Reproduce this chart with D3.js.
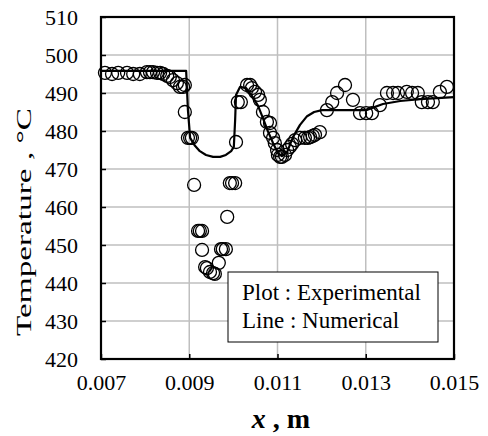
<!DOCTYPE html>
<html>
<head>
<meta charset="utf-8">
<script src="https://cdn.jsdelivr.net/npm/d3@7"></script>
<style>
  body { margin: 0; background: #fff; }
  text { font-family: "Liberation Serif", "Times New Roman", serif; fill: #000; }
</style>
</head>
<body>
<div id="chart"></div>
<script>
// experimental points (circles)
const expX = [0.00709, 0.00725, 0.00739, 0.00759, 0.00773, 0.00788, 0.00804, 0.00811, 0.00818, 0.00827,
  0.00834, 0.00841, 0.00850, 0.00856, 0.00863, 0.00872, 0.00879, 0.00886, 0.00890, 0.00890,
  0.00897, 0.00902, 0.00906, 0.00911, 0.00920, 0.00924, 0.00929, 0.00929, 0.00936, 0.00940,
  0.00947, 0.00954, 0.00958, 0.00967, 0.00972, 0.00976, 0.00983, 0.00986, 0.00992, 0.00997,
  0.01004, 0.01006, 0.01010, 0.01017, 0.01031, 0.01038, 0.01042, 0.01049, 0.01056, 0.01060,
  0.01067, 0.01076, 0.01083, 0.01083, 0.01090, 0.01094, 0.01099, 0.01101, 0.01106, 0.01110,
  0.01117, 0.01122, 0.01128, 0.01133, 0.01140, 0.01151, 0.01162, 0.01169, 0.01174, 0.01180,
  0.01185, 0.01196, 0.01212, 0.01224, 0.01235, 0.01253, 0.01271, 0.01287, 0.01301, 0.01314,
  0.01332, 0.01348, 0.01362, 0.01373, 0.01393, 0.01405, 0.01418, 0.01427, 0.01441, 0.01452,
  0.01468, 0.01484];
const expT = [495.3, 495.0, 495.3, 495.3, 495.0, 495.0, 495.5, 495.5, 495.5, 495.3,
  495.3, 495.0, 494.5, 494.2, 493.4, 492.6, 491.6, 491.6, 492.1, 485.0,
  478.2, 478.2, 478.2, 465.8, 453.7, 453.7, 453.7, 448.7, 444.2, 443.9,
  442.9, 442.6, 442.4, 445.3, 448.9, 448.9, 448.9, 457.4, 466.3, 466.3,
  466.3, 477.1, 487.6, 487.6, 492.1, 492.1, 491.3, 490.3, 489.5, 488.2,
  485.0, 482.4, 482.1, 479.5, 478.2, 476.8, 475.0, 473.7, 473.2, 473.2,
  473.7, 475.0, 475.8, 476.6, 477.6, 478.2, 478.2, 478.2, 478.4, 478.7,
  479.0, 479.7, 485.5, 487.6, 490.0, 492.1, 488.2, 484.7, 484.7, 484.7,
  486.8, 490.0, 490.0, 490.0, 490.3, 490.0, 490.0, 487.6, 487.6, 487.6,
  490.3, 491.6];

// numerical result (line)
const numX = [0.00700, 0.00811, 0.00893, 0.00897, 0.00902, 0.00913, 0.00924, 0.00938, 0.00954, 0.00970,
  0.00983, 0.00995, 0.01001, 0.01004, 0.01006, 0.01015, 0.01029, 0.01044, 0.01056, 0.01067,
  0.01078, 0.01090, 0.01101, 0.01110, 0.01122, 0.01135, 0.01151, 0.01167, 0.01183, 0.01201,
  0.01242, 0.01301, 0.01339, 0.01378, 0.01423, 0.01500];
const numT = [495.8, 495.8, 495.8, 485.5, 478.2, 476.1, 474.7, 473.7, 473.2, 473.2,
  473.7, 474.7, 475.8, 482.9, 489.5, 491.6, 491.3, 488.9, 486.6, 483.4,
  480.0, 476.8, 474.2, 473.4, 474.5, 478.4, 481.6, 483.9, 485.0, 485.5,
  485.5, 485.5, 487.1, 487.9, 488.4, 488.9];

const xTicks = [0.007, 0.009, 0.011, 0.013, 0.015];
const yTicks = [420, 430, 440, 450, 460, 470, 480, 490, 500, 510];
const legendLines = ["Plot : Experimental", "Line : Numerical"];

const W = 488, H = 436;
const margin = { top: 17, right: 34, bottom: 77, left: 101 };
const w = W - margin.left - margin.right;
const h = H - margin.top - margin.bottom;

const svg = d3.select("#chart").append("svg")
  .attr("width", W)
  .attr("height", H);

const g = svg.append("g")
  .attr("transform", `translate(${margin.left},${margin.top})`);

const x = d3.scaleLinear().domain([0.007, 0.015]).range([0, w]);
const y = d3.scaleLinear().domain([420, 510]).range([h, 0]);

// grid
g.append("g").selectAll("line")
  .data(yTicks.slice(1, -1))
  .join("line")
  .attr("x1", 0).attr("x2", w)
  .attr("y1", d => y(d)).attr("y2", d => y(d))
  .attr("stroke", "#bfbfbf").attr("stroke-width", 1.5);

g.append("g").selectAll("line")
  .data(xTicks.slice(1, -1))
  .join("line")
  .attr("y1", 0).attr("y2", h)
  .attr("x1", d => x(d)).attr("x2", d => x(d))
  .attr("stroke", "#bfbfbf").attr("stroke-width", 1.5);

// axes with inside ticks
const xAxis = g.append("g")
  .attr("transform", `translate(0,${h})`)
  .call(d3.axisBottom(x).tickValues(xTicks).tickSizeInner(-5).tickSizeOuter(0).tickPadding(31)
    .tickFormat(d3.format(".3f")));
const yAxis = g.append("g")
  .call(d3.axisLeft(y).tickValues(yTicks).tickSizeInner(-5).tickSizeOuter(0).tickPadding(23));

[xAxis, yAxis].forEach(a => {
  a.select(".domain").remove();
  a.selectAll(".tick line").attr("stroke", "#000").attr("stroke-width", 1.5);
  a.selectAll("text")
    .style("font-family", '"Liberation Serif", serif')
    .style("font-size", "22px")
    .attr("fill", "#000");
});
xAxis.selectAll("text").attr("dy", "0");

// numerical line
const line = d3.line()
  .x(d => x(d[0]))
  .y(d => y(d[1]));

g.append("path")
  .datum(numX.map((d, i) => [d, numT[i]]))
  .attr("d", line)
  .attr("fill", "none")
  .attr("stroke", "#000")
  .attr("stroke-width", 2.2)
  .attr("stroke-linejoin", "round");

// experimental circles
g.append("g").selectAll("circle")
  .data(expX.map((d, i) => [d, expT[i]]))
  .join("circle")
  .attr("cx", d => x(d[0]))
  .attr("cy", d => y(d[1]))
  .attr("r", 6.5)
  .attr("fill", "none")
  .attr("stroke", "#000")
  .attr("stroke-width", 1.3);

// frame
g.append("rect")
  .attr("width", w).attr("height", h)
  .attr("fill", "none")
  .attr("stroke", "#000")
  .attr("stroke-width", 2.2);

// legend box
const legend = svg.append("g").attr("transform", "translate(228,272)");
legend.append("rect")
  .attr("width", 210).attr("height", 70)
  .attr("fill", "#fff")
  .attr("stroke", "#000")
  .attr("stroke-width", 1);
legend.selectAll("text")
  .data(legendLines)
  .join("text")
  .attr("x", 14)
  .attr("y", (d, i) => 28 + i * 28)
  .style("font-size", "23px")
  .text(d => d);

// axis titles
const xTitle = svg.append("text")
  .attr("x", 281).attr("y", 428)
  .attr("text-anchor", "middle")
  .style("font-size", "28px")
  .style("font-weight", "bold");
xTitle.append("tspan").style("font-style", "italic").text("x");
xTitle.append("tspan").text(" , m");

svg.append("text")
  .attr("transform", "translate(31,222) rotate(-90)")
  .attr("text-anchor", "middle")
  .attr("textLength", 228)
  .attr("lengthAdjust", "spacingAndGlyphs")
  .style("font-size", "22px")
  .text("Temperature , °C");
</script>
</body>
</html>
